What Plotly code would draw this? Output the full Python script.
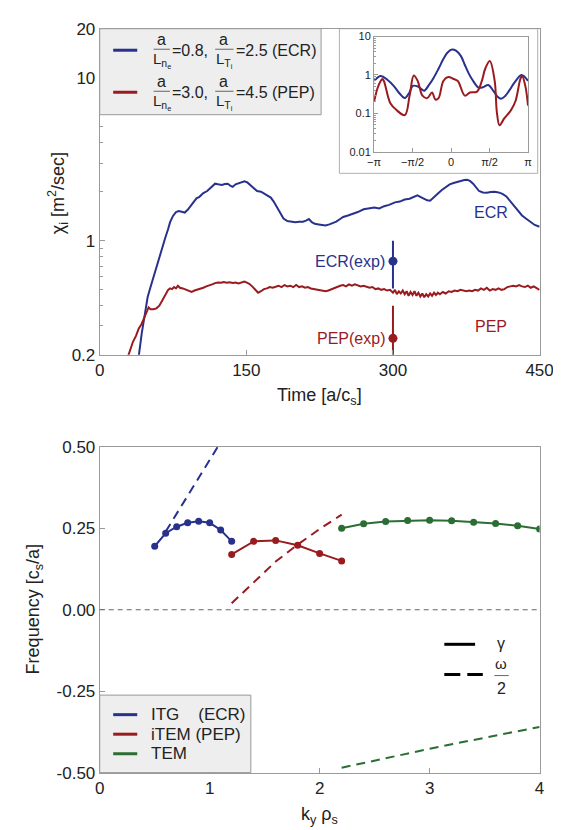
import numpy as np
import plotly.graph_objects as go

# ---- data ----
ecr_t = [38, 40, 43, 45, 49, 52, 55, 58, 62, 65, 67, 70, 72, 75, 78, 81, 84, 87, 90, 93, 96, 99,
         102, 106, 110, 113, 116, 118, 121, 125, 128, 131, 134, 136, 139, 142, 145, 148, 151, 154,
         157, 161, 165, 168, 172, 175, 178, 182, 185, 188, 192, 196, 200, 204, 208, 211, 214, 217,
         220, 224, 228, 231, 235, 238, 242, 246, 249, 254, 259, 264, 270, 275, 281, 286, 291, 296,
         302, 307, 312, 317, 322, 325, 328, 332, 335, 338, 342, 346, 350, 354, 358, 362, 366, 370,
         373, 376, 379, 382, 385, 388, 392, 396, 400, 404, 408, 412, 416, 420, 424, 428, 432, 436,
         441, 445, 450]
ecr_chi = [0.16, 0.20, 0.27, 0.32, 0.45, 0.52, 0.60, 0.68, 0.82, 0.95, 1.04, 1.18, 1.30, 1.42, 1.50,
           1.52, 1.50, 1.49, 1.55, 1.63, 1.72, 1.82, 1.86, 1.96, 2.02, 2.10, 2.16, 2.24, 2.22, 2.20,
           2.23, 2.24, 2.17, 2.14, 2.22, 2.26, 2.28, 2.32, 2.28, 2.20, 2.10, 2.02, 2.00, 1.95, 1.90,
           1.84, 1.74, 1.57, 1.45, 1.37, 1.32, 1.31, 1.30, 1.31, 1.31, 1.33, 1.36, 1.30, 1.27, 1.26,
           1.25, 1.24, 1.26, 1.28, 1.31, 1.36, 1.40, 1.43, 1.46, 1.50, 1.56, 1.58, 1.60, 1.58, 1.63,
           1.66, 1.72, 1.74, 1.79, 1.81, 1.86, 1.90, 1.86, 1.80, 1.77, 1.76, 1.84, 1.95, 2.05, 2.14,
           2.22, 2.26, 2.30, 2.33, 2.36, 2.37, 2.32, 2.24, 2.12, 2.02, 1.98, 1.97, 1.99, 2.00, 1.98,
           1.94, 1.87, 1.75, 1.63, 1.52, 1.43, 1.37, 1.30, 1.25, 1.22]

pep_t = [27, 31, 34, 37, 40, 43, 46, 48, 50, 52, 55, 58, 61, 64, 67, 70, 72, 74, 76, 78, 80, 82, 85,
         88, 91, 94, 97, 100, 103, 106, 109, 112, 115, 118, 121, 124, 127, 130, 133, 136, 139, 142,
         145, 148, 150, 153, 156, 159, 162, 165, 168, 171, 174, 177, 180, 183, 186, 189, 192, 195,
         198, 201, 204, 207, 210, 213, 216, 219, 222, 225, 228, 231, 234, 237, 240, 243, 246, 249,
         252, 255, 258, 261, 264, 267, 270, 273, 276, 279, 282, 285, 288, 291, 294, 297, 300, 302,
         304, 306, 308, 310, 312, 314, 316, 318, 320, 322, 324, 326, 328, 330, 332, 334, 336, 338,
         340, 342, 344, 346, 348, 351, 354, 357, 360, 363, 366, 369, 372, 375, 378, 381, 384, 387,
         390, 393, 396, 399, 402, 405, 408, 411, 414, 417, 420, 423, 426, 429, 432, 435, 438, 441,
         444, 447, 450]
pep_chi = [0.18, 0.21, 0.24, 0.26, 0.29, 0.31, 0.34, 0.37, 0.39, 0.38, 0.38, 0.385, 0.40, 0.43,
           0.46, 0.50, 0.51, 0.505, 0.52, 0.51, 0.53, 0.515, 0.51, 0.50, 0.49, 0.485, 0.495, 0.50,
           0.51, 0.515, 0.525, 0.53, 0.54, 0.55, 0.555, 0.553, 0.558, 0.552, 0.556, 0.55, 0.555,
           0.548, 0.556, 0.562, 0.555, 0.545, 0.525, 0.50, 0.48, 0.49, 0.505, 0.51, 0.52, 0.515,
           0.525, 0.53, 0.52, 0.535, 0.525, 0.53, 0.52, 0.535, 0.52, 0.525, 0.515, 0.52, 0.51,
           0.505, 0.50, 0.50, 0.49, 0.49, 0.495, 0.505, 0.51, 0.52, 0.53, 0.535, 0.525, 0.54, 0.53,
           0.54, 0.53, 0.525, 0.53, 0.52, 0.515, 0.52, 0.505, 0.51, 0.50, 0.505, 0.495, 0.50, 0.48,
           0.50, 0.47, 0.49, 0.475, 0.495, 0.47, 0.49, 0.46, 0.485, 0.465, 0.49, 0.46, 0.48, 0.455,
           0.475, 0.45, 0.47, 0.455, 0.475, 0.46, 0.48, 0.465, 0.48, 0.47, 0.485, 0.475, 0.49,
           0.485, 0.495, 0.49, 0.50, 0.495, 0.49, 0.495, 0.49, 0.50, 0.495, 0.51, 0.50, 0.515,
           0.495, 0.505, 0.50, 0.51, 0.50, 0.505, 0.52, 0.525, 0.53, 0.525, 0.535, 0.525, 0.52,
           0.53, 0.515, 0.525, 0.51, 0.50]

exp_t = [300, 300]
exp_chi = [0.75, 0.252]
exp_hi = [1.0, 0.40]
exp_lo = [0.51, 0.10]
exp_names = ["ECR(exp)", "PEP(exp)"]

# inset: fluctuation amplitude along theta
ecr_theta = [-3.14, -2.87, -2.6, -2.34, -2.1, -1.885, -1.7, -1.558, -1.35, -1.10, -0.9, -0.707,
             -0.5, -0.314, -0.15, 0.04, 0.2, 0.405, 0.55, 0.73, 0.9, 1.12, 1.3, 1.52, 1.72, 1.9,
             2.04, 2.2, 2.37, 2.6, 2.87, 3.0, 3.14]
ecr_amp = [0.7, 0.94, 0.75, 0.52, 0.33, 0.25, 0.35, 0.52, 0.5, 0.39, 0.55, 0.85, 1.5, 2.6, 3.8,
           4.6, 4.3, 3.1, 1.9, 1.07, 0.7, 0.47, 0.48, 0.55, 0.39, 0.27, 0.24, 0.28, 0.39, 0.65,
           1.0, 0.9, 0.7]
pep_theta = [-3.14, -3.0, -2.87, -2.80, -2.74, -2.47, -2.21, -1.885, -1.69, -1.52, -1.36, -1.166,
             -0.97, -0.774, -0.64, -0.51, -0.314, -0.118, 0.08, 0.275, 0.563, 0.77, 1.06, 1.257,
             1.39, 1.58, 1.78, 1.87, 1.98, 2.17, 2.44, 2.63, 2.83, 2.90, 3.03, 3.14]
pep_amp = [0.2, 0.45, 0.7, 0.78, 0.7, 0.18, 0.12, 0.09, 0.29, 0.97, 0.7, 0.29, 0.25, 0.35, 0.23,
           0.25, 0.7, 0.89, 0.8, 0.7, 0.29, 0.35, 0.37, 0.7, 1.43, 2.3, 0.7, 0.107, 0.049, 0.074,
           0.12, 0.21, 0.79, 0.94, 0.52, 0.16]

# linear growth rates (gamma) and frequencies (omega/2)
itg_k = [0.5, 0.6, 0.7, 0.8, 0.9, 1.0, 1.1, 1.2]
itg_gamma = [0.195, 0.235, 0.255, 0.267, 0.272, 0.267, 0.245, 0.21]
itg_wk = [0.6, 0.7, 0.8, 0.9, 1.0, 1.1, 1.2]
itg_omega = [0.24, 0.295, 0.35, 0.405, 0.46, 0.515, 0.57]

item_k = [1.2, 1.4, 1.6, 1.8, 2.0, 2.2]
item_gamma = [0.17, 0.21, 0.213, 0.198, 0.173, 0.15]
item_omega = [0.02, 0.085, 0.148, 0.20, 0.248, 0.292]

tem_k = [2.2, 2.4, 2.6, 2.8, 3.0, 3.2, 3.4, 3.6, 3.8, 4.0]
tem_gamma = [0.25, 0.264, 0.271, 0.274, 0.275, 0.273, 0.269, 0.265, 0.258, 0.248]
tem_omega = [-0.485, -0.47, -0.455, -0.441, -0.427, -0.413, -0.399, -0.386, -0.373, -0.36]

# ---- style ----
W, H = 561, 830
BLUE = "#28318c"
RED = "#9a1b1f"
GREEN = "#2b6e33"
FONT = "Liberation Sans, Arial, sans-serif"
AXC = "#9a9a9a"
TXT = "#222222"


def fx(p):
    return p / W


def fy(p):
    return 1 - p / H


fig = go.Figure()

# top panel
fig.add_trace(go.Scatter(x=ecr_t, y=ecr_chi, mode="lines", line=dict(color=BLUE, width=2),
                         xaxis="x", yaxis="y"))
fig.add_trace(go.Scatter(x=pep_t, y=pep_chi, mode="lines", line=dict(color=RED, width=2),
                         xaxis="x", yaxis="y"))
for i, c in enumerate([BLUE, RED]):
    fig.add_trace(go.Scatter(
        x=[exp_t[i]], y=[exp_chi[i]], mode="markers",
        marker=dict(color=c, size=9),
        error_y=dict(type="data", symmetric=False, array=[exp_hi[i] - exp_chi[i]],
                     arrayminus=[exp_chi[i] - exp_lo[i]], color=c, thickness=2, width=0),
        xaxis="x", yaxis="y"))

# inset
fig.add_trace(go.Scatter(x=ecr_theta, y=ecr_amp, mode="lines", line=dict(color=BLUE, width=2),
                         line_shape="spline", xaxis="x2", yaxis="y2"))
fig.add_trace(go.Scatter(x=pep_theta, y=pep_amp, mode="lines", line=dict(color=RED, width=2),
                         line_shape="spline", xaxis="x2", yaxis="y2"))

# bottom panel
for k, g, c in [(itg_k, itg_gamma, BLUE), (item_k, item_gamma, RED), (tem_k, tem_gamma, GREEN)]:
    fig.add_trace(go.Scatter(x=k, y=g, mode="lines+markers", line=dict(color=c, width=2),
                             marker=dict(color=c, size=7), xaxis="x3", yaxis="y3"))
for k, w, c in [(itg_wk, itg_omega, BLUE), (item_k, item_omega, RED), (tem_k, tem_omega, GREEN)]:
    fig.add_trace(go.Scatter(x=k, y=w, mode="lines", line=dict(color=c, width=2, dash="9px,6px"),
                             xaxis="x3", yaxis="y3"))

axis_common = dict(showline=True, mirror=True, linecolor=AXC, linewidth=1, ticks="inside",
                   tickcolor=AXC, ticklen=5, showgrid=False, zeroline=False,
                   tickfont=dict(family=FONT, size=17, color=TXT))
inset_font = dict(family=FONT, size=11, color=TXT)

minor_top = [0.3, 0.4, 0.5, 0.6, 0.7, 0.8, 0.9, 2, 3, 4, 5, 6, 7, 8, 9]
minor_inset = [0.02, 0.03, 0.04, 0.05, 0.06, 0.07, 0.08, 0.09, 0.2, 0.3, 0.4, 0.5, 0.6, 0.7,
               0.8, 0.9, 2, 3, 4, 5, 6, 7, 8, 9]

fig.update_layout(
    width=W, height=H, autosize=False, showlegend=False,
    margin=dict(l=0, r=0, t=0, b=0),
    paper_bgcolor="white", plot_bgcolor="rgba(0,0,0,0)",
    font=dict(family=FONT, color=TXT),
    xaxis=dict(domain=[fx(88), fx(545)], range=[0, 450], tickvals=[0, 150, 300, 450],
               anchor="y", **axis_common),
    yaxis=dict(domain=[fy(345.6), fy(12)], type="log", range=[np.log10(0.2), np.log10(20)],
               tickvals=[0.2, 1, 10, 20], ticktext=["0.2", "1", "10", "20"], anchor="x",
               minor=dict(tickvals=minor_top, ticks="inside", ticklen=3, tickcolor=AXC),
               **axis_common),
    xaxis2=dict(domain=[fx(373), fx(533)], range=[-np.pi, np.pi],
                tickvals=[-np.pi, -np.pi / 2, 0, np.pi / 2, np.pi],
                ticktext=["\u2212\u03c0", "\u2212\u03c0/2", "0", "\u03c0/2", "\u03c0"],
                anchor="y2", **{**axis_common, "tickfont": inset_font, "ticklen": 4}),
    yaxis2=dict(domain=[fy(138), fy(20)], type="log", range=[-2, 1],
                tickvals=[0.01, 0.1, 1, 10], ticktext=["0.01", "0.1", "1", "10"], anchor="x2",
                minor=dict(tickvals=minor_inset, ticks="inside", ticklen=2, tickcolor=AXC),
                **{**axis_common, "tickfont": inset_font, "ticklen": 4}),
    xaxis3=dict(domain=[fx(88), fx(545)], range=[0, 4], tickvals=[0, 1, 2, 3, 4],
                anchor="y3", **axis_common),
    yaxis3=dict(domain=[fy(773.3), fy(440)], range=[-0.5, 0.5],
                tickvals=[-0.5, -0.25, 0, 0.25, 0.5],
                ticktext=["-0.50", "-0.25", "0.00", "0.25", "0.50"], anchor="x3", **axis_common),
)

shapes = []
annots = []


def px_line(x0, y0, x1, y1, color, width=1, dash=None, layer="above"):
    shapes.append(dict(type="line", xref="paper", yref="paper", x0=fx(x0), y0=fy(y0),
                       x1=fx(x1), y1=fy(y1), layer=layer,
                       line=dict(color=color, width=width, dash=dash)))


def px_text(x, y, text, size=15, color=TXT, xanchor="center", angle=0):
    annots.append(dict(xref="paper", yref="paper", x=fx(x), y=fy(y), text=text,
                       showarrow=False, xanchor=xanchor, yanchor="middle", textangle=angle,
                       font=dict(family=FONT, size=size, color=color)))


# inset frame
shapes.append(dict(type="rect", xref="paper", yref="paper", x0=fx(337), y0=fy(160), x1=fx(543),
                   y1=fy(12), fillcolor="white", line=dict(color="#b0b0b0", width=1),
                   layer="below"))
# zero line
shapes.append(dict(type="line", xref="x3 domain", yref="y3", x0=0, x1=1, y0=0, y1=0,
                   line=dict(color="#666666", width=1.2, dash="5px,4px")))

# top legend
shapes.append(dict(type="rect", xref="paper", yref="paper", x0=fx(88), y0=fy(100), x1=fx(318),
                   y1=fy(12), fillcolor="#eeeeee", line=dict(color="#999999", width=1)))
for yc, c, v1, v2, tag in [(34, BLUE, "0.8", "2.5", "ECR"), (77, RED, "3.0", "4.5", "PEP")]:
    px_line(102, yc, 127, yc, c, 3)
    px_text(152, yc - 11, "a", 16)
    px_line(144, yc - 1, 161, yc - 1, "#666666", 1)
    px_text(153, yc + 11, "L<sub>n<sub>e</sub></sub>", 15)
    px_text(161, yc, "=" + v1 + ",", 16, xanchor="left")
    px_text(217, yc - 11, "a", 16)
    px_line(208, yc - 1, 227, yc - 1, "#666666", 1)
    px_text(218, yc + 11, "L<sub>T<sub>i</sub></sub>", 15)
    px_text(227, yc, "=" + v2 + " (" + tag + ")", 16, xanchor="left")

# curve labels
px_text(494, 200, "ECR", 16, BLUE)
px_text(494, 317, "PEP", 16, RED)
px_text(386, 250, exp_names[0], 16, BLUE, xanchor="right")
px_text(386, 329, exp_names[1], 16, RED, xanchor="right")

# axis titles
px_text(45, 180, "\u03c7<sub>i</sub> [m<sup>2</sup>/sec]", 18, angle=-90)
px_text(316, 388, "Time [a/c<sub>s</sub>]", 18)
px_text(20, 606, "Frequency [c<sub>s</sub>/a]", 18, angle=-90)
px_text(316, 817, "k<sub>y</sub> \u03c1<sub>s</sub>", 18)

# gamma / omega key
px_line(446, 642, 478, 642, "black", 3)
px_text(505, 641, "\u03b3", 16)
px_line(446, 673, 486, 673, "black", 3, dash="16px,7px")
px_text(505, 662, "\u03c9", 15)
px_line(498, 674, 513, 674, "#666666", 1)
px_text(505, 687, "2", 16)

# bottom legend
shapes.append(dict(type="rect", xref="paper", yref="paper", x0=fx(88), y0=fy(773.3), x1=fx(245),
                   y1=fy(694), fillcolor="#eeeeee", line=dict(color="#999999", width=1)))
for yc, c, lab in [(714, BLUE, "ITG&nbsp;&nbsp;&nbsp; (ECR)"), (734, RED, "iTEM (PEP)"),
                   (754, GREEN, "TEM")]:
    px_line(102, yc, 127, yc, c, 3)
    px_text(139, yc, lab, 17, xanchor="left")

fig.update_layout(shapes=shapes, annotations=annots)

fig.write_html("out.html")
